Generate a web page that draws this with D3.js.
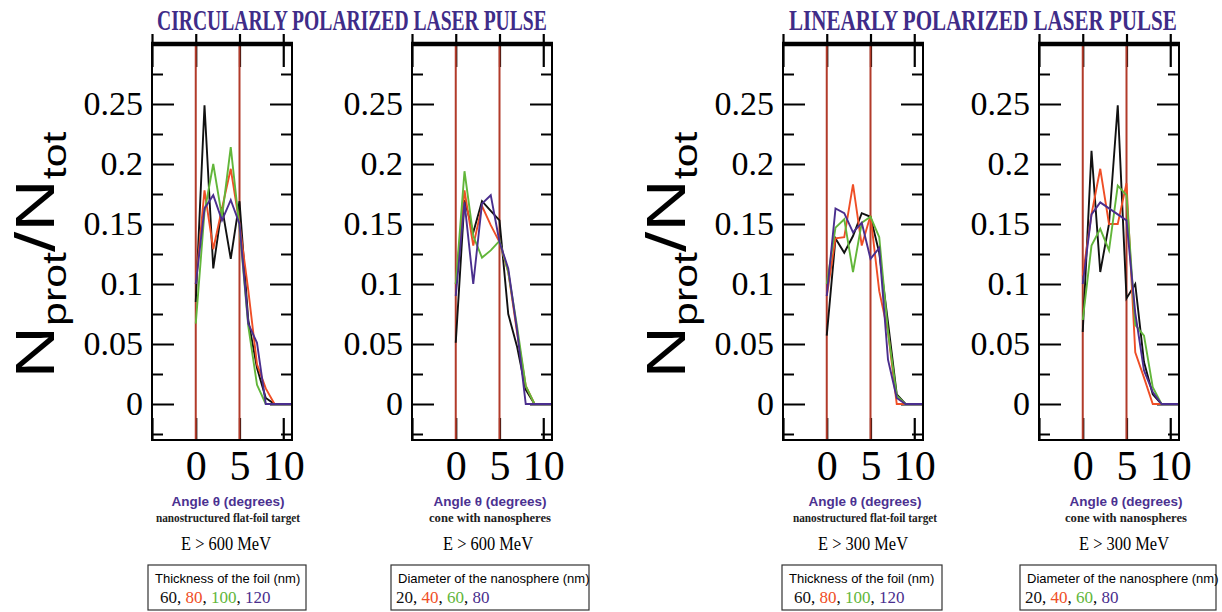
<!DOCTYPE html>
<html>
<head>
<meta charset="utf-8">
<script src="https://cdn.jsdelivr.net/npm/d3@7"></script>
<style>
  body { margin: 0; background: #ffffff; }
  svg { display: block; }
</style>
</head>
<body>
<svg id="fig" width="1222" height="612"></svg>
<script>
// Angular distribution of accelerated protons, N_prot/N_tot vs angle θ (degrees)
const angleDeg = [0, 1, 2, 3, 4, 5, 6, 7, 8, 9, 10, 11];

// Circularly polarized pulse, nanostructured flat-foil target (foil thickness, nm)
const circFoil60  = [0.085, 0.249, 0.113, 0.164, 0.121, 0.169, 0.070, 0.030, 0.005, 0, 0, 0];
const circFoil80  = [0.100, 0.178, 0.129, 0.163, 0.196, 0.150, 0.095, 0.033, 0.013, 0, 0, 0];
const circFoil100 = [0.067, 0.160, 0.200, 0.156, 0.214, 0.147, 0.065, 0.016, 0, 0, 0, 0];
const circFoil120 = [0.100, 0.163, 0.174, 0.153, 0.170, 0.150, 0.067, 0.051, 0, 0, 0, 0];

// Circularly polarized pulse, cone with nanospheres (sphere diameter, nm)
const circCone20 = [0.051, 0.170, 0.143, 0.169, 0.161, 0.153, 0.075, 0.048, 0.012, 0, 0, 0];
const circCone40 = [0.100, 0.178, 0.132, 0.165, 0.149, 0.135, 0.110, 0.060, 0.015, 0, 0, 0];
const circCone60 = [0.100, 0.194, 0.140, 0.122, 0.128, 0.136, 0.110, 0.065, 0.015, 0, 0, 0];
const circCone80 = [0.090, 0.168, 0.100, 0.167, 0.174, 0.135, 0.113, 0.062, 0, 0, 0, 0];

// Linearly polarized pulse, nanostructured flat-foil target
const linFoil60  = [0.057, 0.138, 0.126, 0.140, 0.159, 0.156, 0.126, 0.068, 0.008, 0, 0, 0];
const linFoil80  = [0.090, 0.138, 0.139, 0.183, 0.132, 0.157, 0.094, 0.060, 0, 0, 0, 0];
const linFoil100 = [0.100, 0.147, 0.154, 0.110, 0.151, 0.156, 0.139, 0.060, 0.007, 0, 0, 0];
const linFoil120 = [0.090, 0.163, 0.159, 0.143, 0.151, 0.121, 0.130, 0.037, 0.005, 0, 0, 0];

// Linearly polarized pulse, cone with nanospheres
const linCone20 = [0.060, 0.211, 0.110, 0.150, 0.249, 0.088, 0.100, 0.035, 0.008, 0, 0, 0];
const linCone40 = [0.107, 0.158, 0.196, 0.150, 0.150, 0.184, 0.043, 0.022, 0, 0, 0, 0];
const linCone60 = [0.070, 0.132, 0.146, 0.128, 0.182, 0.174, 0.066, 0.057, 0.014, 0, 0, 0];
const linCone80 = [0.100, 0.158, 0.168, 0.163, 0.158, 0.153, 0.076, 0.028, 0.010, 0, 0, 0];

const yTickValues = [0, 0.05, 0.1, 0.15, 0.2, 0.25];
const yTickLabels = ["0", "0.05", "0.1", "0.15", "0.2", "0.25"];
const yMinorValues = [-0.025, 0.025, 0.075, 0.125, 0.175, 0.225, 0.275];
const xTickValues = [0, 5, 10];
const xTickLabels = ["0", "5", "10"];
const xFrameTicks = [-5, 0, 5, 10];
const markerAngles = [0, 5];

const sectionTitles = ["CIRCULARLY POLARIZED LASER PULSE", "LINEARLY POLARIZED LASER PULSE"];
const targetNames = ["nanostructured flat-foil target", "cone with nanospheres"];
const energyCuts = ["E > 600 MeV", "E > 300 MeV"];
const legendHeads = ["Thickness of the foil (nm)", "Diameter of the nanosphere (nm)"];
const foilThickness = ["60", "80", "100", "120"];
const sphereDiameter = ["20", "40", "60", "80"];

const seriesColors = ["#111111", "#ef4e26", "#62b63a", "#4a2e8e"];
const purple = "#3f2c88";
const markerRed = "#b23b2a";

// layout of the four framed panels
const panels = [
  { left: 152, series: [circFoil60, circFoil80, circFoil100, circFoil120], kind: 0, energy: 0, yLabel: true,  cx: 228,  box: [148, 306] },
  { left: 412, series: [circCone20, circCone40, circCone60, circCone80], kind: 1, energy: 0, yLabel: false, cx: 490,  box: [391, 589] },
  { left: 783, series: [linFoil60, linFoil80, linFoil100, linFoil120],   kind: 0, energy: 1, yLabel: true,  cx: 865,  box: [782, 942] },
  { left: 1039, series: [linCone20, linCone40, linCone60, linCone80],   kind: 1, energy: 1, yLabel: false, cx: 1126, box: [1020, 1216] }
];

const W = 140, TOP = 44, BOTTOM = 440;
const svg = d3.select("#fig");

const y = d3.scaleLinear().domain([-0.03, 0.3]).range([BOTTOM, TOP]);

// section titles: condensed bold serif, squeezed horizontally to the span they occupy
const titleBoxes = [[157, 547], [789, 1177]];
sectionTitles.forEach((t, i) => {
  const tg = svg.append("g");
  const txt = tg.append("text")
    .attr("x", 0).attr("y", 0)
    .attr("font-family", "Liberation Serif, Times New Roman, serif")
    .attr("font-weight", "bold").attr("font-size", 29)
    .attr("fill", purple).text(t);
  const natural = txt.node().getComputedTextLength();
  const sx = (titleBoxes[i][1] - titleBoxes[i][0]) / natural;
  tg.attr("transform", `translate(${titleBoxes[i][0]},30) scale(${sx},1)`);
});

panels.forEach(p => {
  const x = d3.scaleLinear().domain([-5, 11]).range([p.left, p.left + W]);
  const g = svg.append("g");
  const right = p.left + W;

  // minor and major ticks on the left and right frames, pointing inward
  const addTicks = (axisFn, pos, values, size) => {
    const a = g.append("g").attr("transform", `translate(${pos},0)`)
      .call(axisFn(y).tickValues(values).tickSize(size).tickFormat(""));
    a.select(".domain").remove();
    a.selectAll("line").attr("stroke", "#000").attr("stroke-width", 2);
  };
  addTicks(d3.axisRight, p.left, yTickValues, 22);
  addTicks(d3.axisRight, p.left, yMinorValues, 11);
  addTicks(d3.axisLeft, right, yTickValues, 22);
  addTicks(d3.axisLeft, right, yMinorValues, 11);

  // top frame ticks cross the thick top edge; bottom ones point inward
  const topOut = g.append("g").attr("transform", `translate(0,${TOP})`)
    .call(d3.axisTop(x).tickValues(xFrameTicks).tickSize(10).tickFormat(""));
  const topIn = g.append("g").attr("transform", `translate(0,${TOP})`)
    .call(d3.axisBottom(x).tickValues(xFrameTicks).tickSize(23).tickFormat(""));
  const botIn = g.append("g").attr("transform", `translate(0,${BOTTOM})`)
    .call(d3.axisTop(x).tickValues(xFrameTicks).tickSize(22).tickFormat(""));
  [topOut, topIn, botIn].forEach(a => {
    a.select(".domain").remove();
    a.selectAll("line").attr("stroke", "#000").attr("stroke-width", 2.2);
  });

  // vertical markers at 0 and 5 degrees
  g.selectAll(".marker").data(markerAngles).enter().append("line")
    .attr("x1", d => x(d)).attr("x2", d => x(d))
    .attr("y1", TOP).attr("y2", BOTTOM)
    .attr("stroke", markerRed).attr("stroke-width", 2);

  // data curves
  const line = d3.line().x((d, i) => x(angleDeg[i])).y(d => y(d));
  p.series.forEach((s, k) => {
    g.append("path").attr("d", line(s))
      .attr("fill", "none").attr("stroke", seriesColors[k])
      .attr("stroke-width", 1.9).attr("stroke-linejoin", "miter");
  });

  // frame
  g.append("path")
    .attr("d", `M${p.left},${TOP}V${BOTTOM}H${right}V${TOP}`)
    .attr("fill", "none").attr("stroke", "#000").attr("stroke-width", 2);
  g.append("line").attr("x1", p.left - 1).attr("x2", right + 1)
    .attr("y1", TOP).attr("y2", TOP)
    .attr("stroke", "#000").attr("stroke-width", 4.5);

  // y tick labels
  const yl = g.append("g").attr("transform", `translate(${p.left},0)`)
    .call(d3.axisLeft(y).tickValues(yTickValues)
      .tickFormat((d, i) => yTickLabels[i]).tickSize(0).tickPadding(9));
  yl.select(".domain").remove();
  yl.attr("font-family", "Liberation Serif, Times New Roman, serif").attr("font-size", 34);
  yl.selectAll("text").attr("fill", "#000");

  // x tick labels
  const xl = g.append("g").attr("transform", `translate(0,${BOTTOM})`)
    .call(d3.axisBottom(x).tickValues(xTickValues)
      .tickFormat((d, i) => xTickLabels[i]).tickSize(0).tickPadding(10));
  xl.select(".domain").remove();
  xl.attr("font-family", "Liberation Serif, Times New Roman, serif").attr("font-size", 42);
  xl.selectAll("text").attr("fill", "#000");

  // y axis title N_prot / N_tot
  if (p.yLabel) {
    const t = svg.append("text")
      .attr("transform", `translate(${p.left - 98},255) rotate(-90) scale(1.3,1)`)
      .attr("text-anchor", "middle")
      .attr("font-family", "Liberation Sans, Arial, sans-serif")
      .attr("font-size", 56).attr("fill", "#000");
    t.append("tspan").text("N");
    t.append("tspan").attr("font-size", 33).attr("dy", 12).text("prot");
    t.append("tspan").attr("dy", -12).text("/N");
    t.append("tspan").attr("font-size", 33).attr("dy", 12).text("tot");
  }

  // captions under each panel
  svg.append("text").attr("x", p.cx).attr("y", 506).attr("text-anchor", "middle")
    .attr("font-family", "Liberation Sans, Arial, sans-serif").attr("font-weight", "bold")
    .attr("font-size", 13.5).attr("fill", "#4b3191").text("Angle θ (degrees)");
  svg.append("text").attr("x", p.cx).attr("y", 522).attr("text-anchor", "middle")
    .attr("font-family", "Liberation Serif, Times New Roman, serif").attr("font-weight", "bold")
    .attr("font-size", 12.5)
    .attr("textLength", p.kind === 0 ? 144 : 122).attr("lengthAdjust", "spacingAndGlyphs")
    .attr("fill", "#222").text(targetNames[p.kind]);
  svg.append("text").attr("x", p.cx - 2).attr("y", 550).attr("text-anchor", "middle")
    .attr("font-family", "Liberation Serif, Times New Roman, serif")
    .attr("font-size", 19).attr("textLength", 90).attr("lengthAdjust", "spacingAndGlyphs")
    .attr("fill", "#000").text(energyCuts[p.energy]);

  // legend box
  const bx = p.box[0], bw = p.box[1] - p.box[0];
  svg.append("rect").attr("x", bx).attr("y", 565).attr("width", bw).attr("height", 45)
    .attr("fill", "#fff").attr("stroke", "#333").attr("stroke-width", 1.2);
  svg.append("text").attr("x", bx + 7).attr("y", 583)
    .attr("font-family", "Liberation Sans, Arial, sans-serif").attr("font-size", 13)
    .attr("fill", "#000").text(legendHeads[p.kind]);
  const vals = p.kind === 0 ? foilThickness : sphereDiameter;
  const lt = svg.append("text").attr("x", bx + (p.kind === 0 ? 12 : 5)).attr("y", 603)
    .attr("font-family", "Liberation Serif, Times New Roman, serif").attr("font-size", 17);
  vals.forEach((v, k) => {
    lt.append("tspan").attr("fill", seriesColors[k]).text(v);
    if (k < vals.length - 1) lt.append("tspan").attr("fill", "#000").text(", ");
  });
});
</script>
</body>
</html>
